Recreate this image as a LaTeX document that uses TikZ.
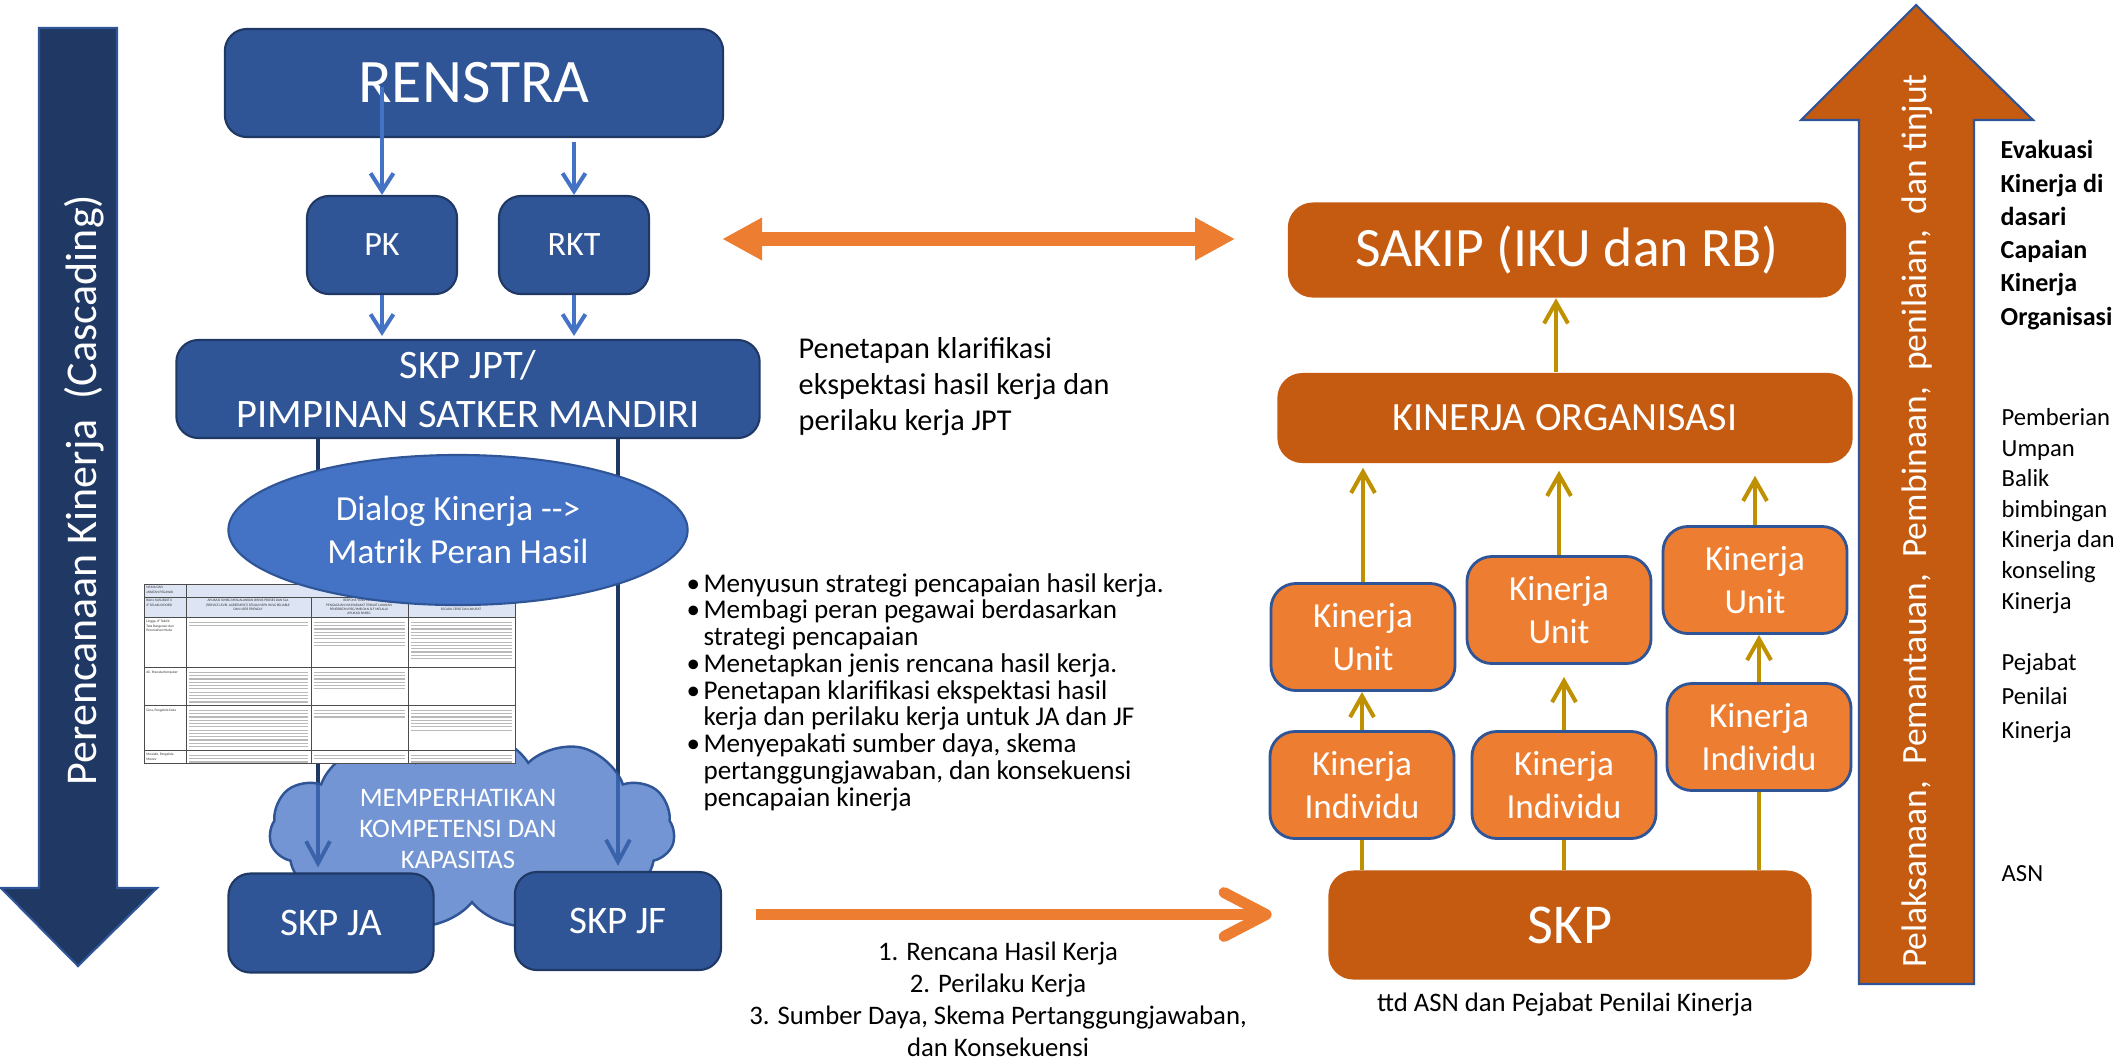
\documentclass[tikz,border=0pt]{standalone}
\usepackage{fontspec}
\setmainfont{Carlito}
\usepackage{xcolor}
\usetikzlibrary{arrows.meta, shapes.geometric, shapes.symbols}
\definecolor{navy}{HTML}{2F5597}
\definecolor{navydark}{HTML}{1F3864}
\definecolor{accent1}{HTML}{4472C4}
\definecolor{orangedark}{HTML}{C55A11}
\definecolor{orangelight}{HTML}{ED7D31}
\definecolor{gold}{HTML}{BF9000}
\colorlet{tablehead}{accent1!18!white}
\newcommand\fs[2]{\fontsize{#1}{#2}\selectfont}
\newcommand\butir{\makebox[4.8pt][l]{\textbullet}}
\newcommand\sambung{\hspace*{4.8pt}}
\pgfdeclarelayer{back}
\pgfsetlayers{back,main}

\begin{document}
\begin{tikzpicture}[x=0.01cm, y=-0.01cm,
	bluebox/.style={draw=navydark, line width=0.6pt, fill=navy, rounded corners=0.22cm, text=white, align=center, inner sep=0},
	orangebox/.style={fill=orangedark, rounded corners=0.25cm, text=white, align=center, inner sep=0},
	kinbox/.style={draw=navy, line width=0.8pt, fill=orangelight, rounded corners=0.25cm, text=white, align=center, inner sep=0, minimum width=1.84cm, minimum height=1.07cm, font=\fs{10}{12.2}},
	bluearrow/.style={draw=accent1, line width=1.15pt, -{Straight Barb[length=5.1pt,width=6.5pt]}},
	goldarrow/.style={draw=gold, line width=1.15pt, -{Straight Barb[length=6pt,width=6.8pt]}},
	goldline/.style={draw=gold, line width=1.15pt},
	darkline/.style={draw=navydark, line width=1.1pt, -{Straight Barb[length=6.3pt,width=6.8pt]}},
	note/.style={text=black, align=left, inner sep=0},
	tabtext/.style={font=\fs{1}{1.25}, inner sep=0, text=black!80}]
	\useasboundingbox (0,0) rectangle (2113,1060);
	
	% big arrows left and right
	\draw[fill=navydark, draw=navy, line width=0.6pt] (39,28) -- (117,28) -- (117,888) -- (157,888) -- (78,966) -- (1,888) -- (39,888) -- cycle;
	\node[rotate=90, text=white, font=\fs{12.5}{15}] (cascade) at (84,490) {Perencanaan Kinerja\ \ (Cascading)};
	\draw[fill=orangedark, draw=navy, line width=0.6pt] (1859,984) -- (1859,120) -- (1801,120) -- (1916,5) -- (2033,120) -- (1974,120) -- (1974,984) -- cycle;
	\node[rotate=90, text=white, font=\fs{10.1}{12}] (monitor) at (1917,521) {Pelaksanaan,\ \ Pemantauan,\ \ Pembinaan,\ \ penilaian,\ \ dan tinjut};
	
	% perencanaan
	\node[bluebox, minimum width=4.98cm, minimum height=1.08cm, font=\fs{17.6}{20}] (renstra) at (474,83) {RENSTRA};
	\node[bluebox, minimum width=1.5cm, minimum height=0.98cm, font=\fs{9.7}{11}] (pk) at (382,245) {PK};
	\node[bluebox, minimum width=1.5cm, minimum height=0.98cm, font=\fs{9.7}{11}] (rkt) at (574,245) {RKT};
	\node[bluebox, minimum width=5.83cm, minimum height=0.98cm, font=\fs{11.5}{13.9}] (skpjpt) at (468,389) {SKP JPT/\\PIMPINAN SATKER MANDIRI};
	\draw[bluearrow] ([yshift=-0.04cm]pk.north |- renstra.center) -- (pk.north);
	\draw[bluearrow] ([yshift=-0.04cm]rkt.north |- renstra.south) -- (rkt.north);
	\draw[bluearrow] (pk.south) -- ([yshift=0.03cm]pk.south |- skpjpt.north);
	\draw[bluearrow] (rkt.south) -- ([yshift=0.03cm]rkt.south |- skpjpt.north);
	
	\node[cloud, cloud puffs=11, cloud puff arc=115, aspect=2.05, minimum width=4.05cm, minimum height=1.98cm, inner sep=0, fill=accent1, fill opacity=0.75, draw=navy, line width=0.7pt] (cloud) at (472,831) {};
	\node[text=white, align=center, inner sep=0, font=\fs{7.6}{8.8}] (cloudtext) at (458,829) {MEMPERHATIKAN\\KOMPETENSI DAN\\KAPASITAS};
	
	% matrik peran hasil
	\begin{scope}[line width=0.25pt]
		\fill[white] (144,584) rectangle (515,763);
		\fill[tablehead] (144,584) rectangle (515,617);
		\foreach \xa/\xb/\ya/\n in {189/308/619/2, 314/405/619/8, 411/512/619/12,
			189/308/669/10, 314/405/669/6,
			189/308/707/12, 314/405/707/3, 411/512/707/7,
			189/308/752/3, 314/405/752/2, 411/512/752/3}
			\foreach \k in {1,...,\n}
				\draw[gray!55, line width=0.35pt] (\xa,{\ya+3.3*\k}) -- (\xb,{\ya+3.3*\k});
		\draw[black!70] (144,584) rectangle (515,763);
		\foreach \y in {597,617,667,705,750}
			\draw[black!70] (144,\y) -- (515,\y);
		\draw[black!70] (186,584) -- (186,763);
		\foreach \x in {311,408}
			\draw[black!70] (\x,597) -- (\x,763);
		\node[tabtext, anchor=north west, align=left] (th1) at (146,586) {NAMA DAN\\JABATAN PEGAWAI};
		\node[tabtext, anchor=north] (th2) at (350,588) {INTERMEDIATE OUTCOME};
		\node[tabtext, anchor=north west, align=left] (th3) at (146,599) {RIAN, KASUBDIT II\\JF SELAKU KOORD};
		\node[tabtext, anchor=north, align=center] (th4) at (248,599) {APLIKASI SIMBG MENJALANKAN BISNIS PROSES DAN SLA\\(SERVICE LEVEL AGREEMENT) SESUAI NSPK YANG RELIABLE\\DAN USER FRIENDLY};
		\node[tabtext, anchor=north, align=center] (th5) at (359,599) {RESPONS YANG CEPAT\\PENGADUAN MASYARAKAT TERKAIT LAYANAN\\PENERBITAN PBG/IMB DAN SLF MELALUI\\APLIKASI SIMBG};
		\node[tabtext, anchor=north, align=center] (th6) at (461,603) {PENERBITAN PBG/IMB DAN SLF MELALUI SIMBG\\SECARA CEPAT DAN AKURAT};
		\node[tabtext, anchor=north west, align=left] (td1) at (146,620) {Lingga, JF Teknik\\Tata Bangunan dan\\Perumahan Muda};
		\node[tabtext, anchor=north west, align=left] (td2) at (146,670) {Ali, Pranata Komputer};
		\node[tabtext, anchor=north west, align=left] (td3) at (146,708) {Gina, Pengelola Data};
		\node[tabtext, anchor=north west, align=left] (td4) at (146,753) {Mustafa, Pengelola\\Monev};
	\end{scope}
	
	\node[ellipse, fill=accent1, draw=navy, line width=0.6pt, minimum width=4.59cm, minimum height=1.5cm, inner sep=0, text=white, align=center, font=\fs{10}{12.2}] (dialog) at (458,530) {Dialog Kinerja -{}-{}>\\Matrik Peran Hasil};
	
	\node[bluebox, minimum width=2.05cm, minimum height=0.99cm, font=\fs{11.1}{12}] (skpja) at (331,923) {SKP JA};
	\node[bluebox, minimum width=2.06cm, minimum height=0.98cm, font=\fs{11.1}{12}] (skpjf) at (618,921) {SKP JF};
	\begin{pgfonlayer}{back}
		\draw[darkline, shorten >=0.05cm] ([xshift=-0.13cm]skpja.north |- skpjpt.south) -- ([xshift=-0.13cm]skpja.north);
		\draw[darkline, shorten >=0.05cm] (skpjf.north |- skpjpt.south) -- (skpjf.north);
	\end{pgfonlayer}
	
	% keterangan tengah
	\node[note, anchor=base west, font=\fs{8.6}{10.2}] (penetapan) at (798,430) {Penetapan klarifikasi\\ekspektasi hasil kerja dan\\perilaku kerja JPT};
	\node[note, anchor=base west, font=\fs{7.7}{7.6}] (langkah) at (686,806) {\butir Menyusun strategi pencapaian hasil kerja.\\\butir Membagi peran pegawai berdasarkan\\\sambung strategi pencapaian\\\butir Menetapkan jenis rencana hasil kerja.\\\butir Penetapan klarifikasi ekspektasi hasil\\\sambung kerja dan perilaku kerja untuk JA dan JF\\\butir Menyepakati sumber daya, skema\\\sambung pertanggungjawaban, dan konsekuensi\\\sambung pencapaian kinerja};
	\node[note, align=center, anchor=base, font=\fs{7.6}{9.1}] (hasil) at (998,1056) {1. Rencana Hasil Kerja\\2. Perilaku Kerja\\3. Sumber Daya, Skema Pertanggungjawaban,\\dan Konsekuensi};
	
	% kinerja
	\node[orangebox, minimum width=5.58cm, minimum height=0.95cm, font=\fs{15.8}{18}] (sakip) at (1567,250) {SAKIP (IKU dan RB)};
	\node[orangebox, minimum width=5.75cm, minimum height=0.9cm, font=\fs{11.4}{13}] (kinorg) at (1565,418) {KINERJA ORGANISASI};
	\node[kinbox] (unit1) at (1363,637) {Kinerja\\Unit};
	\node[kinbox] (unit2) at (1559,610) {Kinerja\\Unit};
	\node[kinbox] (unit3) at (1755,580) {Kinerja\\Unit};
	\node[kinbox] (ind1) at (1362,785) {Kinerja\\Individu};
	\node[kinbox] (ind2) at (1564,785) {Kinerja\\Individu};
	\node[kinbox] (ind3) at (1759,737) {Kinerja\\Individu};
	\node[orangebox, minimum width=4.83cm, minimum height=1.09cm, font=\fs{16}{19}] (skp) at (1570,925) {SKP};
	\node[note, anchor=base, font=\fs{7.6}{9}] (ttd) at (1565,1011) {ttd ASN dan Pejabat Penilai Kinerja};
	
	\draw[goldarrow] ([xshift=-0.09cm]kinorg.north) -- ([xshift=-0.09cm]kinorg.north |- sakip.south);
	\draw[goldarrow] (unit1.north) -- ([yshift=-0.04cm]unit1.north |- kinorg.south);
	\draw[goldarrow] (unit2.north) -- ([yshift=-0.07cm]unit2.north |- kinorg.south);
	\draw[goldarrow] (unit3.north) -- ([yshift=-0.12cm]unit3.north |- kinorg.south);
	\draw[goldarrow] (ind1.north) -- (ind1.north |- unit1.south);
	\draw[goldarrow] (ind2.north) -- ([yshift=-0.12cm]ind2.north |- unit2.south);
	\draw[goldarrow] (ind3.north) -- (ind3.north |- unit3.south);
	\draw[goldline] (ind1.south |- skp.north) -- (ind1.south);
	\draw[goldline] (ind2.south |- skp.north) -- (ind2.south);
	\draw[goldline] (ind3.south |- skp.north) -- (ind3.south);
	
	% penghubung
	\draw[orangelight, line width=4pt, {Triangle[length=11.4pt,width=11.4pt]}-{Triangle[length=11.4pt,width=11.4pt]}, shorten <=0.72cm, shorten >=0.52cm] ([yshift=0.06cm]rkt.east) -- ([yshift=0.06cm]rkt.east -| sakip.west);
	\draw[orangelight, line width=3.1pt, -{Straight Barb[length=12pt,width=12.5pt,round]}, shorten <=0.34cm, shorten >=0.56cm] ([yshift=0.065cm]skpjf.east) -- ([yshift=0.065cm]skpjf.east -| skp.west);
	
	% keterangan kanan
	\node[note, anchor=base west, font=\bfseries\fs{7.4}{9.45}] (evaluasi) at (2000,325) {Evakuasi\\Kinerja di\\dasari\\Capaian\\Kinerja\\Organisasi};
	\node[note, anchor=base west, font=\fs{7}{8.7}] (umpanbalik) at (2001,609) {Pemberian\\Umpan\\Balik\\bimbingan\\Kinerja dan\\konseling\\Kinerja};
	\node[note, anchor=base west, font=\fs{7}{9.6}] (pejabat) at (2001,738) {Pejabat\\Penilai\\Kinerja};
	\node[note, anchor=base west, font=\fs{7}{8.7}] (asn) at (2001,881) {ASN};
\end{tikzpicture}
\end{document}
